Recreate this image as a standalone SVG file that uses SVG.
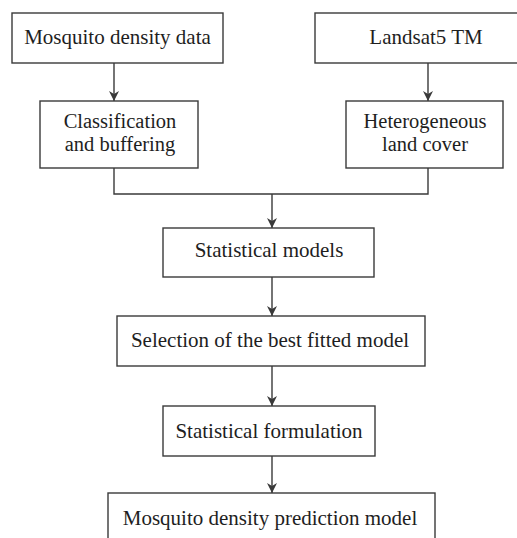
<svg xmlns="http://www.w3.org/2000/svg" width="517" height="538" viewBox="0 0 517 538">
<style>
.box{fill:#ffffff;stroke:#3a3a3a;stroke-width:1.4}
.lbl{font-family:"Liberation Serif","Times New Roman",serif;font-size:21px;fill:#1e1e1e;text-anchor:middle}
.sm{font-size:20.5px}
.line{fill:none;stroke:#3a3a3a;stroke-width:1.4}
</style>
<defs>
<marker id="ah" markerWidth="10" markerHeight="10" refX="10" refY="5" orient="auto" markerUnits="userSpaceOnUse" viewBox="0 0 10 10">
<path d="M0,0 L10,5 L0,10 L3,5 Z" fill="#3a3a3a"/>
</marker>
</defs>
<rect width="517" height="538" fill="#ffffff"/>
<g id="connectors">
<line class="line" x1="114" y1="63" x2="114" y2="101" marker-end="url(#ah)"/>
<line class="line" x1="428" y1="63" x2="428" y2="101" marker-end="url(#ah)"/>
<polyline class="line" points="114,168 114,194 428,194 428,168"/>
<line class="line" x1="272" y1="194" x2="272" y2="228" marker-end="url(#ah)"/>
<line class="line" x1="272" y1="277" x2="272" y2="316" marker-end="url(#ah)"/>
<line class="line" x1="272" y1="366" x2="272" y2="406" marker-end="url(#ah)"/>
<line class="line" x1="272" y1="456" x2="272" y2="493" marker-end="url(#ah)"/>
</g>
<g id="n1">
<rect class="box" x="12" y="13" width="211" height="50"/>
<text class="lbl" x="117.5" y="44">Mosquito density data</text>
</g>
<g id="n2">
<rect class="box" x="315" y="13" width="222" height="50"/>
<text class="lbl" x="426" y="44">Landsat5 TM</text>
</g>
<g id="n3">
<rect class="box" x="40" y="101" width="158" height="67"/>
<text class="lbl sm" x="120" y="127.5">Classification</text>
<text class="lbl sm" x="120" y="151">and buffering</text>
</g>
<g id="n4">
<rect class="box" x="346" y="101" width="157" height="67"/>
<text class="lbl sm" x="425" y="127.5">Heterogeneous</text>
<text class="lbl sm" x="425" y="151">land cover</text>
</g>
<g id="n5">
<rect class="box" x="163" y="228" width="211" height="49"/>
<text class="lbl" x="269" y="257">Statistical models</text>
</g>
<g id="n6">
<rect class="box" x="117" y="316" width="308" height="50"/>
<text class="lbl" x="270" y="347">Selection of the best fitted model</text>
</g>
<g id="n7">
<rect class="box" x="163" y="406" width="212" height="50"/>
<text class="lbl" x="269" y="438">Statistical formulation</text>
</g>
<g id="n8">
<rect class="box" x="108" y="493" width="327" height="60"/>
<text class="lbl" x="270" y="525">Mosquito density prediction model</text>
</g>
</svg>
